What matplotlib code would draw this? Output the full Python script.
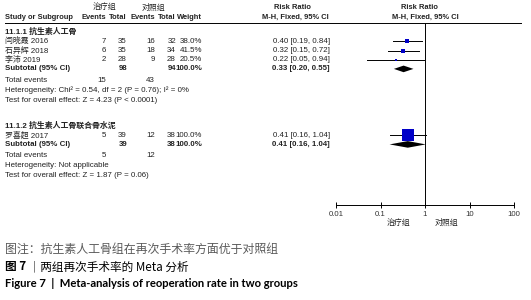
import matplotlib
matplotlib.use('Agg')
import matplotlib.pyplot as plt

plt.rcParams['font.family'] = ['Liberation Sans', 'Noto Sans CJK SC']

# data
group_names = ['11.1.1 抗生素人工骨', '11.1.2 抗生素人工骨联合骨水泥']
studies = [['闫晓霞 2016', '石异辉 2018', '李沛 2019'], ['罗喜超 2017']]
events_t = [[7, 6, 2], [5]]
total_t = [[35, 35, 28], [39]]
events_c = [[16, 18, 9], [12]]
total_c = [[32, 34, 28], [38]]
weights = [[38.0, 41.5, 20.5], [100.0]]
rr = [[0.40, 0.32, 0.22], [0.41]]
rr_lo = [[0.19, 0.15, 0.05], [0.16]]
rr_hi = [[0.84, 0.72, 0.94], [1.04]]
sub_rr = [0.33, 0.41]
sub_lo = [0.20, 0.16]
sub_hi = [0.55, 1.04]
heterogeneity = ['Heterogeneity: Chi² = 0.54, df = 2 (P = 0.76); I² = 0%',
                 'Heterogeneity: Not applicable']
overall = ['Test for overall effect: Z = 4.23 (P < 0.0001)',
           'Test for overall effect: Z = 1.87 (P = 0.06)']
xticks = [0.01, 0.1, 1, 10, 100]
xtick_labels = ['0.01', '0.1', '1', '10', '100']

fig = plt.figure(figsize=(5.31, 3.0), dpi=100)
ax = fig.add_axes([0, 0, 1, 1])
ax.set_xlim(0, 531)
ax.set_ylim(300, 0)
ax.axis('off')

axis_y = 205

# forest panel
ax2 = fig.add_axes([336 / 531, 0, 178 / 531, 1])
ax2.set_xscale('log')
ax2.set_xlim(0.01, 100)
ax2.set_ylim(300, 0)
ax2.patch.set_alpha(0)
for s in ['top', 'left', 'right']:
    ax2.spines[s].set_visible(False)
ax2.spines['bottom'].set_position(('data', axis_y))
ax2.spines['bottom'].set_linewidth(0.7)
ax2.set_yticks([])
ax2.set_xticks(xticks)
ax2.set_xticklabels(xtick_labels)
ax2.minorticks_off()
ax2.tick_params(axis='x', direction='inout', length=5, width=0.7, labelsize=5.6, pad=2, labelcolor='#333333')

fs = 5.7
hfs = 5.4
txt = dict(fontsize=fs, va='center', color='#222222')
htxt = dict(fontsize=hfs, va='center', color='#222222', fontweight='bold')
c_ev1, c_tot1, c_ev2, c_tot2, c_w, c_rr = 106, 127, 155, 176, 202, 330

# header
ax.text(104, 7.5, '治疗组', ha='center', **txt)
ax.text(153, 7.5, '对照组', ha='center', **txt)
ax.text(292, 7.5, 'Risk Ratio', ha='center', **htxt)
ax.text(419, 7.5, 'Risk Ratio', ha='center', **htxt)
ax.text(5, 17.5, 'Study or Subgroup', ha='left', **htxt)
for x, lab in [(c_ev1, 'Events'), (c_tot1, 'Total'), (c_ev2, 'Events'), (c_tot2, 'Total'), (c_w, 'Weight')]:
    ax.text(x, 17.5, lab, ha='right', **htxt)
ax.text(295, 17.5, 'M-H, Fixed, 95% CI', ha='center', **htxt)
ax.text(425, 17.5, 'M-H, Fixed, 95% CI', ha='center', **htxt)
ax.plot([5, 521], [23, 23], color='black', lw=0.7)

ax2.vlines(1, 23, axis_y, color='black', lw=0.7)

# rows
y = 31.5
for g in range(2):
    ax.text(5, y, group_names[g], ha='left', fontweight='bold', **txt)
    y += 9.8
    for i in range(len(studies[g])):
        ax.text(5, y, studies[g][i], ha='left', **txt)
        ax.text(c_ev1, y, str(events_t[g][i]), ha='right', **txt)
        ax.text(c_tot1, y, str(total_t[g][i]), ha='right', **txt)
        ax.text(c_ev2, y, str(events_c[g][i]), ha='right', **txt)
        ax.text(c_tot2, y, str(total_c[g][i]), ha='right', **txt)
        ax.text(c_w, y, f'{weights[g][i]:.1f}%', ha='right', **txt)
        ax.text(c_rr, y, f'{rr[g][i]:.2f} [{rr_lo[g][i]:.2f}, {rr_hi[g][i]:.2f}]', ha='right', **txt)
        ax2.plot([rr_lo[g][i], rr_hi[g][i]], [y, y], color='black', lw=0.7)
        size_px = max(12 * weights[g][i] / 100, 2.5)
        ax2.plot(rr[g][i], y, marker='s', ms=size_px * 0.72, color='#0000c8', mec='#0000c8', mew=0)
        y += 9.2
    # subtotal
    ax.text(5, y, 'Subtotal (95% CI)', ha='left', fontweight='bold', **txt)
    ax.text(c_tot1, y, str(sum(total_t[g])), ha='right', fontweight='bold', **txt)
    ax.text(c_tot2, y, str(sum(total_c[g])), ha='right', fontweight='bold', **txt)
    ax.text(c_w, y, '100.0%', ha='right', fontweight='bold', **txt)
    ax.text(c_rr, y, f'{sub_rr[g]:.2f} [{sub_lo[g]:.2f}, {sub_hi[g]:.2f}]', ha='right', fontweight='bold', **txt)
    h = 3.3
    ax2.fill([sub_lo[g], sub_rr[g], sub_hi[g], sub_rr[g]], [y, y - h, y, y + h], color='black', lw=0)
    y += 11.5
    ax.text(5, y, 'Total events', ha='left', **txt)
    ax.text(c_ev1, y, str(sum(events_t[g])), ha='right', **txt)
    ax.text(c_ev2, y, str(sum(events_c[g])), ha='right', **txt)
    y += 10
    ax.text(5, y, heterogeneity[g], ha='left', **txt)
    y += 10
    ax.text(5, y, overall[g], ha='left', **txt)
    y += 25

ax.text(398, axis_y + 18, '治疗组', ha='center', **txt)
ax.text(446, axis_y + 18, '对照组', ha='center', **txt)

# captions
ax.text(5, 249, '图注：抗生素人工骨组在再次手术率方面优于对照组', ha='left', va='center',
        fontsize=8.6, color='#5a5a5a', family=['Noto Sans CJK SC'])
t1 = ax.text(5, 266.5, '图 7', ha='left', va='center',
             fontsize=8.4, color='black', family=['Noto Sans CJK SC'], fontweight='bold')
fig.canvas.draw()
bb = t1.get_window_extent()
ax.annotate(' ｜两组再次手术率的 Meta 分析', xy=(bb.x1, bb.y0), xycoords='figure pixels',
            xytext=(0, 0), textcoords='offset points', ha='left', va='bottom',
            fontsize=8.4, color='black', family=['Noto Sans CJK SC'], fontweight='medium')
ax.text(5, 283.5, 'Figure 7  |  Meta-analysis of reoperation rate in two groups', ha='left', va='center',
        fontsize=8.1, color='black', family=['Lato', 'DejaVu Sans'], fontweight='bold')

fig.savefig('out.png', dpi=100)
